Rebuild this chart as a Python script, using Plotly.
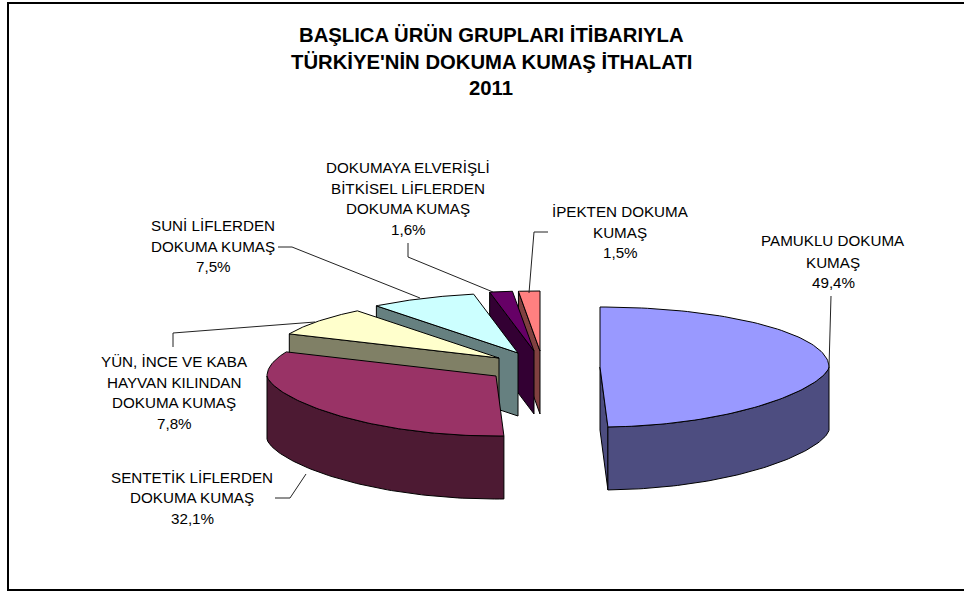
import numpy as np
import plotly.graph_objects as go

# ---- data ----
categories = ["PAMUKLU", "SENTETİK", "YÜN", "SUNİ", "DOKUMAYA", "İPEKTEN"]
values = [49.4, 32.1, 7.8, 7.5, 1.6, 1.5]
title_lines = ["BAŞLICA ÜRÜN GRUPLARI İTİBARIYLA", "TÜRKİYE'NİN DOKUMA KUMAŞ İTHALATI", "2011"]
label_lines = [
    ["PAMUKLU DOKUMA", "KUMAŞ", "49,4%"],
    ["SENTETİK LİFLERDEN", "DOKUMA KUMAŞ", "32,1%"],
    ["YÜN, İNCE VE KABA", "HAYVAN KILINDAN", "DOKUMA KUMAŞ", "7,8%"],
    ["SUNİ LİFLERDEN", "DOKUMA KUMAŞ", "7,5%"],
    ["DOKUMAYA ELVERİŞLİ", "BİTKİSEL LİFLERDEN", "DOKUMA KUMAŞ", "1,6%"],
    ["İPEKTEN DOKUMA", "KUMAŞ", "1,5%"],
]

# ---- styles and layout ----
top_colors = ["#9999FF", "#993366", "#FFFFCC", "#CCFFFF", "#660066", "#FF8080"]
side_colors = ["#4D4D80", "#4D1A33", "#808066", "#668080", "#330033", "#804040"]
centers = [(600, 367), (496, 376), (499, 358), (518, 353), (534, 351), (540, 351)]
RX, RY, DEPTH = 229, 60, 63
FRONT_POWER = 1.3  # the front rim of the 3D pie runs flatter than a true ellipse
label_x = [833, 192, 174, 213, 408, 620]
label_y = [[240, 262, 282], [477, 497, 518], [361, 382, 402, 423], [225, 246, 266],
           [167, 188, 208, 229], [211, 232, 252]]
leaders = [
    [(831, 296), (829, 367)],
    [(275, 498), (290, 498), (306, 474)],
    [(173, 347), (173, 333), (315, 322)],
    [(278, 247), (292, 247), (420, 298)],
    [(408, 243), (408, 257), (493, 292)],
    [(548, 232), (534, 232), (529, 293)],
]
title_y = [35, 62, 88]
FONT = "Liberation Sans, Arial, sans-serif"

fig = go.Figure()


def poly(xs, ys, color):
    fig.add_trace(go.Scatter(
        x=list(xs) + [xs[0]], y=list(ys) + [ys[0]], mode="lines", fill="toself",
        fillcolor=color, line=dict(color="black", width=1),
        hoverinfo="skip", showlegend=False))


total = sum(values)
edges = np.concatenate([[0], np.cumsum(values)]) / total * 360


def pt(c, deg):
    r = np.radians(deg)
    co = np.cos(r)
    dy = np.where(co < 0, -np.abs(co) ** FRONT_POWER, co)
    return c[0] + RX * np.sin(r), c[1] - RY * dy


def wall(c, deg, color):
    x, y = pt(c, deg)
    x, y = float(x), float(y)
    poly([c[0], x, x, c[0]], [c[1], y, y + DEPTH, c[1] + DEPTH], color)


for i in reversed(range(len(values))):
    a0, a1, c = edges[i], edges[i + 1], centers[i]
    # radial walls that face the viewer
    if np.cos(np.radians(a0 - 90)) < 0:
        wall(c, a0, side_colors[i])
    if np.cos(np.radians(a1 + 90)) < 0:
        wall(c, a1, side_colors[i])
    # outer wall
    lo, hi = max(a0, 90), min(a1, 270)
    if hi > lo:
        t = np.linspace(lo, hi, 80)
        x, y = pt(c, t)
        poly(np.concatenate([x, x[::-1]]), np.concatenate([y, y[::-1] + DEPTH]), side_colors[i])
    # top face
    t = np.linspace(a0, a1, 120)
    x, y = pt(c, t)
    poly(np.concatenate([[c[0]], x]), np.concatenate([[c[1]], y]), top_colors[i])

for pts in leaders:
    fig.add_trace(go.Scatter(x=[p[0] for p in pts], y=[p[1] for p in pts], mode="lines",
                             line=dict(color="#222222", width=1), hoverinfo="skip", showlegend=False))

annotations = []
for line, y in zip(title_lines, title_y):
    annotations.append(dict(x=491, y=y, text=f"<b>{line}</b>", showarrow=False, xanchor="center",
                            yanchor="middle", font=dict(family=FONT, size=20.3, color="black")))
for lines, x, ys in zip(label_lines, label_x, label_y):
    for line, y in zip(lines, ys):
        annotations.append(dict(x=x, y=y, text=line, showarrow=False, xanchor="center",
                                yanchor="middle", font=dict(family=FONT, size=15.2, color="black")))

fig.update_layout(
    width=964, height=592, margin=dict(l=0, r=0, t=0, b=0, pad=0),
    paper_bgcolor="white", plot_bgcolor="white", showlegend=False,
    xaxis=dict(range=[0, 964], visible=False, fixedrange=True),
    yaxis=dict(range=[592, 0], visible=False, fixedrange=True),
    annotations=annotations,
    shapes=[dict(type="rect", x0=8, y0=3, x1=975, y1=590, line=dict(color="black", width=2),
                 fillcolor="rgba(0,0,0,0)", layer="below")],
)
fig.write_html("out.html", config={"displayModeBar": False},
               post_script="document.body.style.margin='0';document.documentElement.style.overflow='hidden';")
